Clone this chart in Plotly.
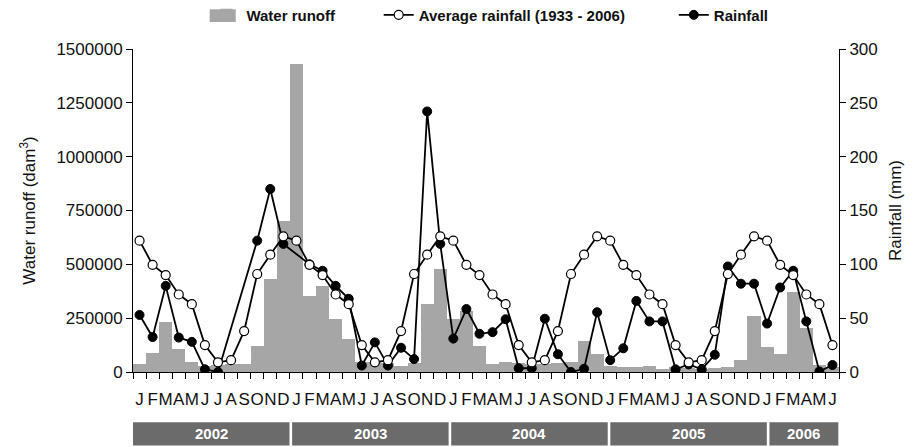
import plotly.graph_objects as go

# Monthly series, January 2002 to June 2006
month_letters = ["J", "F", "M", "A", "M", "J", "J", "A", "S", "O", "N", "D"]
years = ["2002", "2003", "2004", "2005", "2006"]
months_in_year = [12, 12, 12, 12, 6]

# Water runoff (dam3)
water_runoff = [
    37000, 88000, 232000, 107000, 46000, 30000, 32000, 37000, 37000, 122000, 432000, 701000,
    1430000, 353000, 399000, 245000, 152000, 47000, 46000, 42000, 29000, 40000, 316000, 478000,
    246000, 284000, 122000, 38000, 47000, 40000, 37000, 38000, 42000, 46000, 145000, 84000,
    28000, 21000, 25000, 28000, 14000, 24000, 17000, 14000, 20000, 23000, 56000, 261000,
    116000, 84000, 373000, 204000, 32000, 25000,
]

# Long-term mean monthly rainfall 1933-2006 (mm)
avg_rainfall = [
    122, 99.5, 90, 72, 63, 25, 9, 11, 38, 91, 109, 126,
    122, 99.5, 90, 72, 63, 25, 9, 11, 38, 91, 109, 126,
    122, 99.5, 90, 72, 63, 25, 9, 11, 38, 91, 109, 126,
    122, 99.5, 90, 72, 63, 25, 9, 11, 38, 91, 109, 126,
    122, 99.5, 90, 72, 63, 25,
]

# Observed monthly rainfall (mm); None = no record
rainfall = [
    53, 32.5, 80, 32, 28, 2.5, 0, None, None, 122, 170, 119,
    None, 100, 94, 80, 68, 6, 27.5, 6, 22.5, 12, 242, 119,
    31, 58.5, 35.5, 37, 49, 3.5, 3.5, 49.5, 16.5, 0, 3, 55.5,
    11, 22, 66, 47, 47, 2.5, 7, 2.5, 16, 98, 82, 82,
    45, 78.5, 94, 47, 0.5, 6.5,
]

n = len(water_runoff)
x = list(range(n))
tick_text = [month_letters[i % 12] for i in x]

FONT = "Liberation Sans, Arial, sans-serif"
BAR_GREY = "#a6a6a6"
BOX_GREY = "#6b6b6b"

fig = go.Figure()

fig.add_trace(go.Bar(
    x=x, y=water_runoff, name="Water runoff",
    marker=dict(color=BAR_GREY, line=dict(width=0)),
    width=1.0, yaxis="y", legend="legend", showlegend=True,
))

fig.add_trace(go.Scatter(
    x=x, y=rainfall, name="Rainfall", mode="lines+markers",
    connectgaps=True,
    line=dict(color="black", width=1.8),
    marker=dict(symbol="circle", size=9, color="black",
                line=dict(color="black", width=1)),
    yaxis="y2", legend="legend3", showlegend=True,
))

fig.add_trace(go.Scatter(
    x=x, y=avg_rainfall, name="Average rainfall (1933 - 2006)", mode="lines+markers",
    line=dict(color="black", width=1.8),
    marker=dict(symbol="circle", size=9, color="white",
                line=dict(color="black", width=1.2)),
    yaxis="y2", legend="legend2", showlegend=True,
))

legend_common = dict(
    orientation="h", yanchor="middle", y=1.105, xanchor="left",
    bgcolor="rgba(0,0,0,0)", borderwidth=0,
    font=dict(family=FONT, size=15, color="#111", weight="bold"),
)

shapes = []
annotations = []

# Wide swatch for the runoff legend entry
shapes.append(dict(
    type="rect", xref="paper", yref="paper",
    x0=0.1086, x1=0.1455, y0=1.0836, y1=1.1229,
    fillcolor=BAR_GREY, line=dict(width=0), layer="above",
))

# Year strip under the month letters
for k, (yr, m) in enumerate(zip(years, months_in_year)):
    u0 = 12.17 * k
    u1 = min(u0 + 11.97, n - 0.05)
    shapes.append(dict(
        type="rect", xref="paper", yref="paper",
        x0=u0 / n, x1=u1 / n, y0=-0.2276, y1=-0.1557,
        fillcolor=BOX_GREY, line=dict(width=0), layer="above",
    ))
    annotations.append(dict(
        xref="paper", yref="paper", x=(u0 + u1) / 2 / n, y=-0.1916,
        text="<b>%s</b>" % yr, showarrow=False,
        font=dict(family=FONT, size=15, color="white"),
        xanchor="center", yanchor="middle",
    ))

fig.update_layout(
    width=919, height=447,
    margin=dict(l=133, r=80, t=49, b=75, autoexpand=False),
    paper_bgcolor="white", plot_bgcolor="white",
    font=dict(family=FONT, size=17, color="#111"),
    bargap=0,
    showlegend=True,
    legend=dict(legend_common, x=0.104),
    legend2=dict(legend_common, x=0.348),
    legend3=dict(legend_common, x=0.766),
    xaxis=dict(
        range=[-0.5, n - 0.5],
        tickmode="array", tickvals=x, ticktext=tick_text, tickangle=0,
        ticks="outside", ticklen=12, tickcolor="rgba(0,0,0,0)",
        tickfont=dict(family=FONT, size=17, color="#111"),
        minor=dict(ticks="outside", ticklen=6, tickwidth=1, tickcolor="black",
                   tickmode="linear", tick0=-0.5, dtick=1),
        showline=True, linecolor="black", linewidth=1,
        showgrid=False, zeroline=False, fixedrange=True,
    ),
    yaxis=dict(
        range=[0, 1500000],
        tickmode="array", tickvals=[0, 250000, 500000, 750000, 1000000, 1250000, 1500000],
        tickformat="d",
        ticks="outside", ticklen=6, tickcolor="black",
        showline=True, linecolor="black", linewidth=1,
        showgrid=False, zeroline=False,
        title=dict(text="Water runoff (dam<sup>3</sup>)", standoff=16,
                   font=dict(family=FONT, size=17, color="#111")),
    ),
    yaxis2=dict(
        range=[0, 300], overlaying="y", side="right",
        tickmode="linear", tick0=0, dtick=50,
        ticks="outside", ticklen=6, tickcolor="black",
        showline=True, linecolor="black", linewidth=1,
        showgrid=False, zeroline=False,
        title=dict(text="Rainfall (mm)", standoff=12,
                   font=dict(family=FONT, size=17, color="#111")),
    ),
    shapes=shapes,
    annotations=annotations,
)

fig.write_html("out.html")
